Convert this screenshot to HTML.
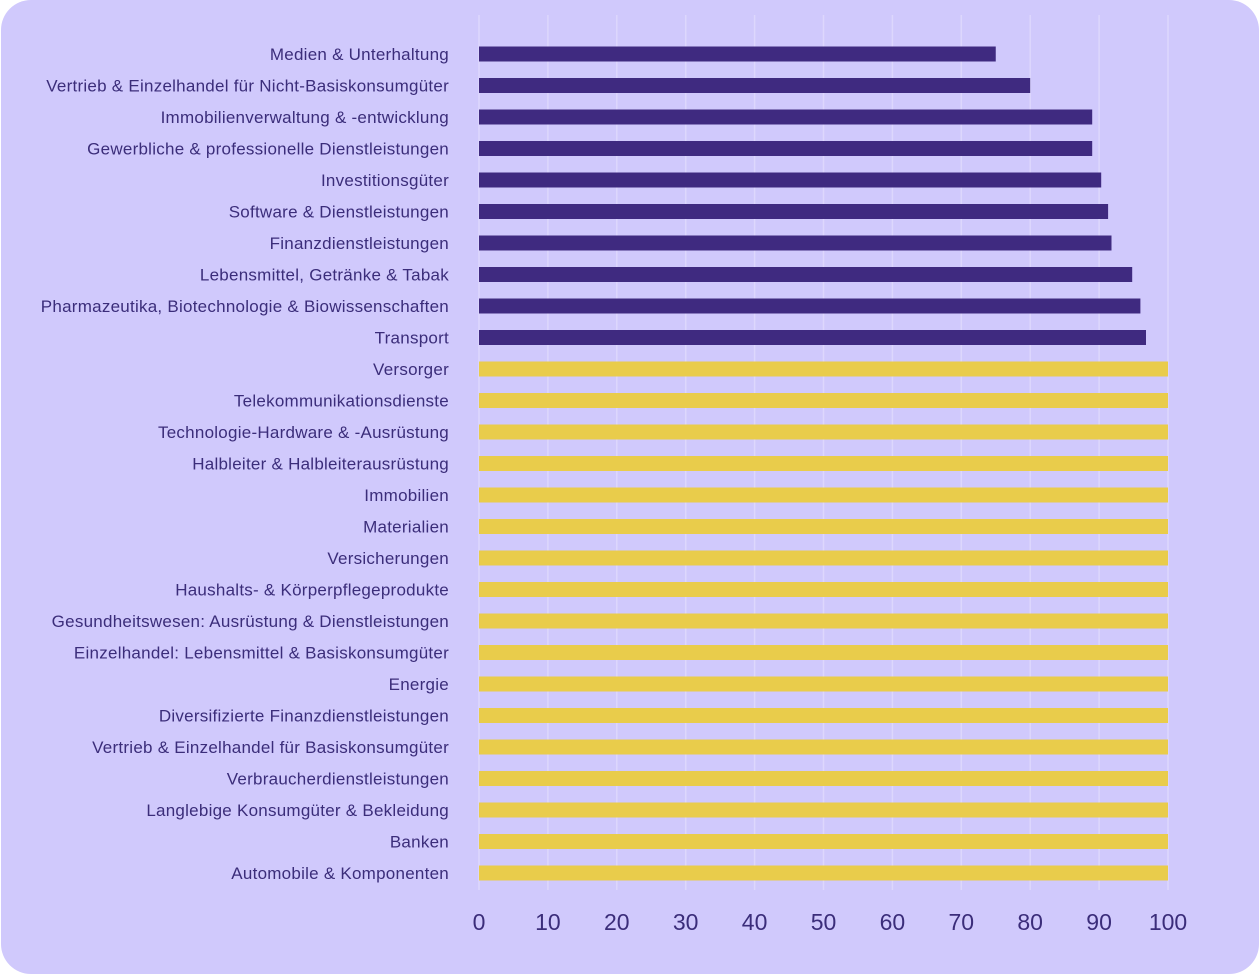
<!DOCTYPE html><html><head><style>
body{margin:0;background:#fff;}
</style></head><body>
<svg width="1260" height="975" xmlns="http://www.w3.org/2000/svg" font-family="Liberation Sans, sans-serif">
<rect x="1" y="0" width="1258" height="974" rx="30" fill="#d0c9fc"/>
<g stroke="#ddd7fd" stroke-width="1.5">
<line x1="479" y1="15" x2="479" y2="890"/><line x1="547.9" y1="15" x2="547.9" y2="890"/><line x1="616.8" y1="15" x2="616.8" y2="890"/><line x1="685.7" y1="15" x2="685.7" y2="890"/><line x1="754.6" y1="15" x2="754.6" y2="890"/><line x1="823.5" y1="15" x2="823.5" y2="890"/><line x1="892.4" y1="15" x2="892.4" y2="890"/><line x1="961.3" y1="15" x2="961.3" y2="890"/><line x1="1030.2" y1="15" x2="1030.2" y2="890"/><line x1="1099.1" y1="15" x2="1099.1" y2="890"/><line x1="1168" y1="15" x2="1168" y2="890"/>
</g>
<g font-size="23" fill="#3b2d7a" text-anchor="middle">
<text x="479" y="930">0</text><text x="547.9" y="930">10</text><text x="616.8" y="930">20</text><text x="685.7" y="930">30</text><text x="754.6" y="930">40</text><text x="823.5" y="930">50</text><text x="892.4" y="930">60</text><text x="961.3" y="930">70</text><text x="1030.2" y="930">80</text><text x="1099.1" y="930">90</text><text x="1168" y="930">100</text>
</g>
<g fill="#3f2a80">
<rect x="479" y="46.5" width="516.75" height="15"/>
<rect x="479" y="78" width="551.2" height="15"/>
<rect x="479" y="109.5" width="613.2" height="15"/>
<rect x="479" y="141" width="613.2" height="15"/>
<rect x="479" y="172.5" width="622.2" height="15"/>
<rect x="479" y="204" width="629.1" height="15"/>
<rect x="479" y="235.5" width="632.5" height="15"/>
<rect x="479" y="267" width="653.2" height="15"/>
<rect x="479" y="298.5" width="661.4" height="15"/>
<rect x="479" y="330" width="667" height="15"/>
</g>
<g fill="#e9cc4b">
<rect x="479" y="361.5" width="689" height="15"/>
<rect x="479" y="393" width="689" height="15"/>
<rect x="479" y="424.5" width="689" height="15"/>
<rect x="479" y="456" width="689" height="15"/>
<rect x="479" y="487.5" width="689" height="15"/>
<rect x="479" y="519" width="689" height="15"/>
<rect x="479" y="550.5" width="689" height="15"/>
<rect x="479" y="582" width="689" height="15"/>
<rect x="479" y="613.5" width="689" height="15"/>
<rect x="479" y="645" width="689" height="15"/>
<rect x="479" y="676.5" width="689" height="15"/>
<rect x="479" y="708" width="689" height="15"/>
<rect x="479" y="739.5" width="689" height="15"/>
<rect x="479" y="771" width="689" height="15"/>
<rect x="479" y="802.5" width="689" height="15"/>
<rect x="479" y="834" width="689" height="15"/>
<rect x="479" y="865.5" width="689" height="15"/>
</g>
<g font-size="17" letter-spacing="0.25" fill="#3b2d7a" text-anchor="end">
<text x="449" y="60">Medien &amp; Unterhaltung</text>
<text x="449" y="91.5">Vertrieb &amp; Einzelhandel für Nicht-Basiskonsumgüter</text>
<text x="449" y="123">Immobilienverwaltung &amp; -entwicklung</text>
<text x="449" y="154.5">Gewerbliche &amp; professionelle Dienstleistungen</text>
<text x="449" y="186">Investitionsgüter</text>
<text x="449" y="217.5">Software &amp; Dienstleistungen</text>
<text x="449" y="249">Finanzdienstleistungen</text>
<text x="449" y="280.5">Lebensmittel, Getränke &amp; Tabak</text>
<text x="449" y="312">Pharmazeutika, Biotechnologie &amp; Biowissenschaften</text>
<text x="449" y="343.5">Transport</text>
<text x="449" y="375">Versorger</text>
<text x="449" y="406.5">Telekommunikationsdienste</text>
<text x="449" y="438">Technologie-Hardware &amp; -Ausrüstung</text>
<text x="449" y="469.5">Halbleiter &amp; Halbleiterausrüstung</text>
<text x="449" y="501">Immobilien</text>
<text x="449" y="532.5">Materialien</text>
<text x="449" y="564">Versicherungen</text>
<text x="449" y="595.5">Haushalts- &amp; Körperpflegeprodukte</text>
<text x="449" y="627">Gesundheitswesen: Ausrüstung &amp; Dienstleistungen</text>
<text x="449" y="658.5">Einzelhandel: Lebensmittel &amp; Basiskonsumgüter</text>
<text x="449" y="690">Energie</text>
<text x="449" y="721.5">Diversifizierte Finanzdienstleistungen</text>
<text x="449" y="753">Vertrieb &amp; Einzelhandel für Basiskonsumgüter</text>
<text x="449" y="784.5">Verbraucherdienstleistungen</text>
<text x="449" y="816">Langlebige Konsumgüter &amp; Bekleidung</text>
<text x="449" y="847.5">Banken</text>
<text x="449" y="879">Automobile &amp; Komponenten</text>
</g>
</svg>
</body></html>
